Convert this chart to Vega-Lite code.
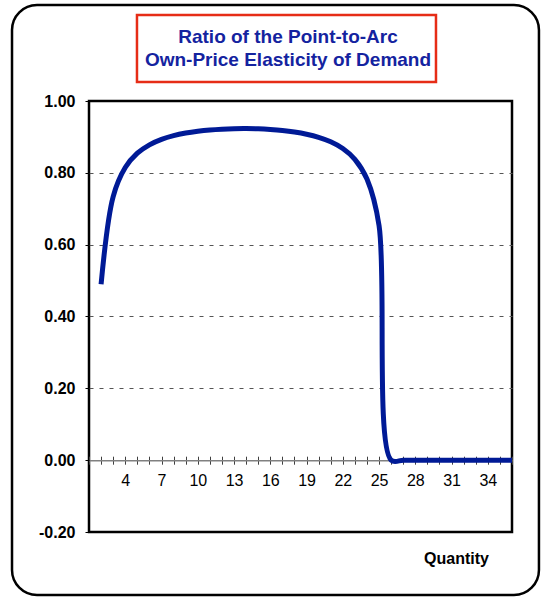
{
  "$schema": "https://vega.github.io/schema/vega-lite/v6.json",
  "width": 423,
  "height": 431,
  "autosize": {"type": "none"},
  "padding": {"left": 89, "top": 101, "right": 29, "bottom": 65},
  "background": "white",
  "config": {
    "font": "Liberation Sans",
    "view": {"stroke": "#000000", "strokeWidth": 2.5}
  },
  "title": {
    "text": ["Ratio of the Point-to-Arc", "Own-Price Elasticity of Demand"],
    "fontSize": 19,
    "fontWeight": "bold",
    "color": "#14239f",
    "font": "Liberation Sans",
    "anchor": "middle",
    "frame": "group",
    "lineHeight": 23,
    "dx": -12.5,
    "offset": -66
  },
  "datasets": {
    "ratio": [
      {"q": 2, "r": 0.4898},
      {"q": 3, "r": 0.7340},
      {"q": 4, "r": 0.8148},
      {"q": 5, "r": 0.8547},
      {"q": 6, "r": 0.8780},
      {"q": 7, "r": 0.8932},
      {"q": 8, "r": 0.9035},
      {"q": 9, "r": 0.9107},
      {"q": 10, "r": 0.9158},
      {"q": 11, "r": 0.9194},
      {"q": 12, "r": 0.9216},
      {"q": 13, "r": 0.9228},
      {"q": 14, "r": 0.9231},
      {"q": 15, "r": 0.9224},
      {"q": 16, "r": 0.9206},
      {"q": 17, "r": 0.9178},
      {"q": 18, "r": 0.9135},
      {"q": 19, "r": 0.9074},
      {"q": 20, "r": 0.8988},
      {"q": 21, "r": 0.8864},
      {"q": 22, "r": 0.8677},
      {"q": 23, "r": 0.8377},
      {"q": 24, "r": 0.7826},
      {"q": 25, "r": 0.6528},
      {"q": 26, "r": 0},
      {"q": 27, "r": 0},
      {"q": 28, "r": 0},
      {"q": 29, "r": 0},
      {"q": 30, "r": 0},
      {"q": 31, "r": 0},
      {"q": 32, "r": 0},
      {"q": 33, "r": 0},
      {"q": 34, "r": 0},
      {"q": 35, "r": 0},
      {"q": 36, "r": 0}
    ],
    "one": [{}]
  },
  "layer": [
    {
      "data": {"name": "one"},
      "mark": {"type": "rect", "cornerRadius": 25, "fill": "white", "fillOpacity": 0, "stroke": "#000000", "strokeWidth": 2.5, "clip": false},
      "encoding": {
        "x": {"datum": -5.37, "type": "quantitative", "scale": {"domain": [1, 36], "nice": false, "zero": false}, "axis": null},
        "x2": {"datum": 38.23},
        "y": {
          "datum": 1.2673, "type": "quantitative",
          "scale": {"domain": [-0.2, 1], "nice": false, "zero": false},
          "axis": {
            "values": [-0.2, 0, 0.2, 0.4, 0.6, 0.8, 1.0],
            "labelExpr": "datum.value < -0.001 ? '-' + format(-datum.value, '.2f') : format(abs(datum.value), '.2f')",
            "labelFontSize": 16, "labelFontWeight": "bold", "labelColor": "#000000", "labelPadding": 10,
            "domain": false,
            "ticks": true, "tickSize": 4, "tickWidth": 1, "tickColor": "#000000",
            "grid": true, "gridColor": "#555555", "gridDash": [4, 6], "gridWidth": 1,
            "gridOpacity": {"condition": {"test": "datum.value < 0.1 || datum.value > 0.9", "value": 0}, "value": 1},
            "title": null
          }
        },
        "y2": {"datum": -0.3754}
      }
    },
    {
      "data": {"name": "one"},
      "mark": {"type": "rect", "fill": "white", "fillOpacity": 0, "stroke": "#e62c16", "strokeWidth": 2.5, "clip": false},
      "encoding": {
        "x": {"datum": 4.97, "type": "quantitative", "scale": {"domain": [1, 36], "nice": false, "zero": false}, "axis": null},
        "x2": {"datum": 29.71},
        "y": {
          "datum": 1.2394, "type": "quantitative",
          "scale": {"domain": [-0.2, 1], "nice": false, "zero": false},
          "axis": {
            "values": [-0.2, 0, 0.2, 0.4, 0.6, 0.8, 1.0],
            "labelExpr": "datum.value < -0.001 ? '-' + format(-datum.value, '.2f') : format(abs(datum.value), '.2f')",
            "labelFontSize": 16, "labelFontWeight": "bold", "labelColor": "#000000", "labelPadding": 10,
            "domain": false,
            "ticks": true, "tickSize": 4, "tickWidth": 1, "tickColor": "#000000",
            "grid": true, "gridColor": "#555555", "gridDash": [4, 6], "gridWidth": 1,
            "gridOpacity": {"condition": {"test": "datum.value < 0.1 || datum.value > 0.9", "value": 0}, "value": 1},
            "title": null
          }
        },
        "y2": {"datum": 1.0529}
      }
    },
    {
      "data": {"name": "ratio"},
      "mark": {"type": "tick", "opacity": 0},
      "encoding": {
        "x": {
          "field": "q", "type": "quantitative",
          "scale": {"domain": [1, 36], "nice": false, "zero": false},
          "axis": {
            "orient": "top", "offset": -359.2, "values": [1,2,3,4,5,6,7,8,9,10,11,12,13,14,15,16,17,18,19,20,21,22,23,24,25,26,27,28,29,30,31,32,33,34,35,36],
            "domain": false, "labels": false, "grid": false, "title": null,
            "ticks": true, "tickSize": 4, "tickWidth": 1, "tickColor": "#404040"
          }
        },
        "y": {
          "field": "r", "type": "quantitative",
          "scale": {"domain": [-0.2, 1], "nice": false, "zero": false},
          "axis": {
            "values": [-0.2, 0, 0.2, 0.4, 0.6, 0.8, 1.0],
            "labelExpr": "datum.value < -0.001 ? '-' + format(-datum.value, '.2f') : format(abs(datum.value), '.2f')",
            "labelFontSize": 16, "labelFontWeight": "bold", "labelColor": "#000000", "labelPadding": 10,
            "domain": false,
            "ticks": true, "tickSize": 4, "tickWidth": 1, "tickColor": "#000000",
            "grid": true, "gridColor": "#555555", "gridDash": [4, 6], "gridWidth": 1,
            "gridOpacity": {"condition": {"test": "datum.value < 0.1 || datum.value > 0.9", "value": 0}, "value": 1},
            "title": null
          }
        }
      }
    },
    {
      "data": {"name": "ratio"},
      "mark": {"type": "line", "interpolate": "catmull-rom", "strokeWidth": 5, "color": "#001a96"},
      "encoding": {
        "x": {
          "field": "q", "type": "quantitative",
          "scale": {"domain": [1, 36], "nice": false, "zero": false},
          "axis": {
            "orient": "bottom", "offset": -71.8,
            "values": [1,2,3,4,5,6,7,8,9,10,11,12,13,14,15,16,17,18,19,20,21,22,23,24,25,26,27,28,29,30,31,32,33,34,35,36],
            "labelExpr": "(datum.value % 3 == 1 && datum.value > 1 && datum.value < 35) ? datum.label : ''",
            "labelFontSize": 16, "labelColor": "#000000", "labelPadding": 8, "labelOverlap": false, "labelFlush": false,
            "domain": true, "domainColor": "#808080", "domainWidth": 1.5,
            "ticks": true, "tickSize": 4, "tickWidth": 1, "tickColor": "#404040",
            "grid": false,
            "title": "Quantity", "titleFontSize": 16, "titleFontWeight": "bold", "titleColor": "#000000",
            "titleX": 367, "titleY": 103, "titleAlign": "center", "titleBaseline": "alphabetic", "titleAngle": 0
          }
        },
        "y": {
          "field": "r", "type": "quantitative",
          "scale": {"domain": [-0.2, 1], "nice": false, "zero": false},
          "axis": {
            "values": [-0.2, 0, 0.2, 0.4, 0.6, 0.8, 1.0],
            "labelExpr": "datum.value < -0.001 ? '-' + format(-datum.value, '.2f') : format(abs(datum.value), '.2f')",
            "labelFontSize": 16, "labelFontWeight": "bold", "labelColor": "#000000", "labelPadding": 10,
            "domain": false,
            "ticks": true, "tickSize": 4, "tickWidth": 1, "tickColor": "#000000",
            "grid": true, "gridColor": "#555555", "gridDash": [4, 6], "gridWidth": 1,
            "gridOpacity": {"condition": {"test": "datum.value < 0.1 || datum.value > 0.9", "value": 0}, "value": 1},
            "title": null
          }
        }
      }
    }
  ],
  "resolve": {"axis": {"x": "independent"}}
}
